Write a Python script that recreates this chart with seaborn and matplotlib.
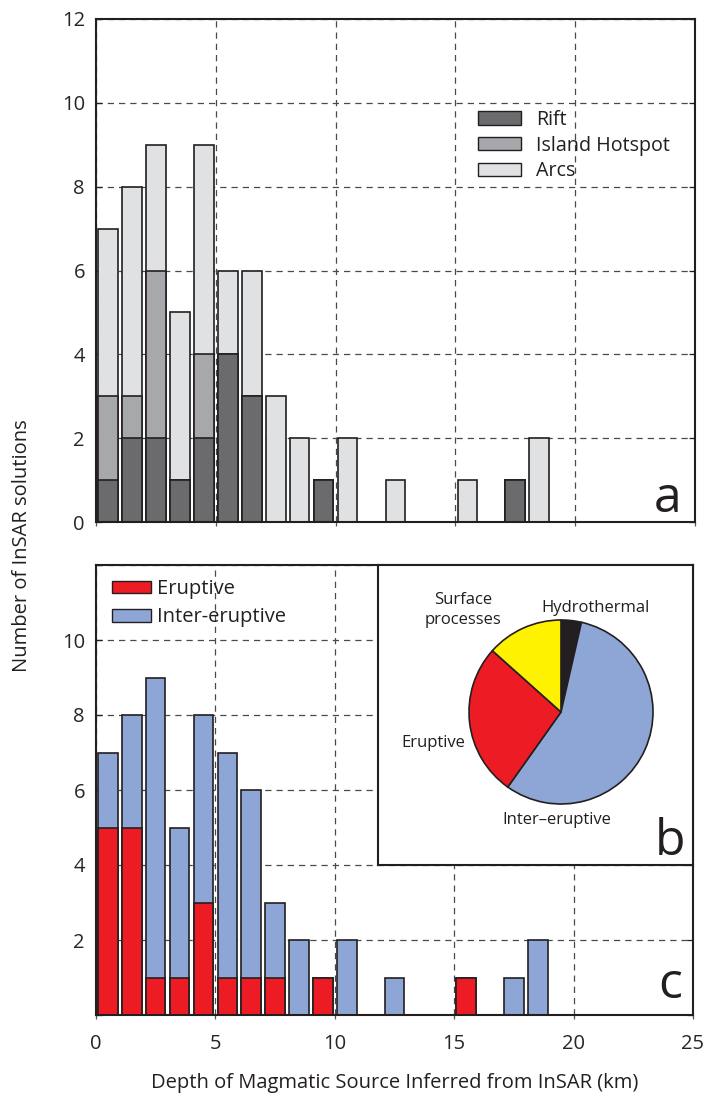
import numpy as np
import pandas as pd
import matplotlib
matplotlib.use("Agg")
import matplotlib.pyplot as plt
from matplotlib.patches import Patch
from matplotlib import font_manager
import seaborn as sns

# ---- data -------------------------------------------------------------
depth_km = np.arange(25) + 0.5          # 1-km bin centres
rift     = [1, 2, 2, 1, 2, 4, 3, 0, 0, 1, 0, 0, 0, 0, 0, 0, 0, 1, 0, 0, 0, 0, 0, 0, 0]
hotspot  = [2, 1, 4, 0, 2, 0, 0, 0, 0, 0, 0, 0, 0, 0, 0, 0, 0, 0, 0, 0, 0, 0, 0, 0, 0]
arcs     = [4, 5, 3, 4, 5, 2, 3, 3, 2, 0, 2, 0, 1, 0, 0, 1, 0, 0, 2, 0, 0, 0, 0, 0, 0]
eruptive = [5, 5, 1, 1, 3, 1, 1, 1, 0, 1, 0, 0, 0, 0, 0, 1, 0, 0, 0, 0, 0, 0, 0, 0, 0]
inter    = [2, 3, 8, 4, 5, 6, 5, 2, 2, 0, 2, 0, 1, 0, 0, 0, 0, 1, 2, 0, 0, 0, 0, 0, 0]

pie_labels = ["Hydrothermal", "Inter\u2013eruptive", "Eruptive", "Surface\nprocesses"]
pie_counts = [4, 63, 30, 15]

x_ticks = [0, 5, 10, 15, 20, 25]
y_ticks = [0, 2, 4, 6, 8, 10, 12]

# ---- style ------------------------------------------------------------
C_RIFT, C_HOT, C_ARC = "#6b6b6d", "#a7a8ab", "#e0e1e3"
C_ERU, C_INT = "#ed1c24", "#8ea6d5"
C_HYD, C_SURF = "#231f20", "#fff200"
EDGE = "#231f20"

sns.set_theme(style="white")
installed = {f.name for f in font_manager.fontManager.ttflist}
main_font = "Open Sans" if "Open Sans" in installed else "DejaVu Sans"
plt.rcParams["font.family"] = [main_font, "DejaVu Sans"]
plt.rcParams["text.color"] = "#231f20"
plt.rcParams["axes.labelcolor"] = "#231f20"

W, H = 704, 1095
fig = plt.figure(figsize=(W / 100, H / 100), dpi=100)


def fx(px):
    return px / W


def fy(py):
    return 1 - py / H


def box(left, top, right, bottom):
    return [fx(left), fy(bottom), (right - left) / W, (bottom - top) / H]


df = pd.DataFrame({"depth": depth_km, "rift": rift, "hotspot": hotspot, "arcs": arcs,
                   "eruptive": eruptive, "inter": inter})
df["rift_hot"] = df["rift"] + df["hotspot"]
df["rift_hot_arc"] = df["rift_hot"] + df["arcs"]
df["eru_int"] = df["eruptive"] + df["inter"]

bar_kw = dict(x="depth", native_scale=True, width=0.82, saturation=1,
              edgecolor=EDGE, linewidth=1.2, errorbar=None)


def style_axes(ax, show_x_labels):
    ax.set_xlim(0, 25)
    ax.set_ylim(0, 12)
    ax.set_xticks(x_ticks)
    ax.set_yticks(y_ticks)
    ax.set_axisbelow(True)
    ax.grid(True, color="#4a4a4a", linestyle=(0, (5, 4)), linewidth=0.9)
    ax.set_xlabel("")
    ax.set_ylabel("")
    for s in ax.spines.values():
        s.set_visible(True)
        s.set_color(EDGE)
        s.set_linewidth(1.5)
    ax.tick_params(axis="y", which="both", left=True, right=True, direction="in",
                   length=4, width=0.9, color=EDGE, labelsize=14.5, pad=8)
    ax.tick_params(axis="x", bottom=True, direction="out", length=3, width=0.9,
                   color="#555555", labelsize=14.5, pad=11, labelbottom=show_x_labels)


# ---- panel a: tectonic setting -----------------------------------------
ax_a = fig.add_axes(box(96, 19, 695, 522))
sns.barplot(data=df, y="rift_hot_arc", color=C_ARC, ax=ax_a, **bar_kw)
sns.barplot(data=df, y="rift_hot", color=C_HOT, ax=ax_a, **bar_kw)
sns.barplot(data=df, y="rift", color=C_RIFT, ax=ax_a, **bar_kw)
style_axes(ax_a, show_x_labels=False)

handles_a = [Patch(facecolor=c, edgecolor=EDGE, linewidth=1.0) for c in (C_RIFT, C_HOT, C_ARC)]
ax_a.legend(handles_a, ["Rift", "Island Hotspot", "Arcs"], loc="upper left",
            bbox_to_anchor=(fx(478), fy(110)), bbox_transform=fig.transFigure,
            frameon=False, fontsize=14.2, handlelength=2.2, handleheight=0.65,
            handletextpad=0.75, labelspacing=0.28, borderpad=0, borderaxespad=0)
ax_a.text(0.955, 0.02, "a", transform=ax_a.transAxes, ha="center", va="baseline",
          fontsize=36)

# ---- panel c: eruptive state --------------------------------------------
ax_c = fig.add_axes(box(96, 565, 693, 1015))
sns.barplot(data=df, y="eru_int", color=C_INT, ax=ax_c, **bar_kw)
sns.barplot(data=df, y="eruptive", color=C_ERU, ax=ax_c, **bar_kw)
style_axes(ax_c, show_x_labels=True)
ax_c.set_yticklabels(["" if t in (0, 12) else str(t) for t in y_ticks])

handles_c = [Patch(facecolor=c, edgecolor=EDGE, linewidth=1.0) for c in (C_ERU, C_INT)]
ax_c.legend(handles_c, ["Eruptive", "Inter-eruptive"], loc="upper left",
            bbox_to_anchor=(fx(112), fy(579)), bbox_transform=fig.transFigure,
            frameon=False, fontsize=14.5, handlelength=1.95, handleheight=0.6,
            handletextpad=0.3, labelspacing=0.42, borderpad=0, borderaxespad=0)
fig.text(fx(670), fy(998), "c", ha="center", va="baseline", fontsize=36)

# ---- panel b: inset pie of deformation causes ----------------------------
ax_b = fig.add_axes(box(378, 565, 693, 865))
ax_b.set_facecolor("white")
ax_b.set_xticks([])
ax_b.set_yticks([])
for s in ax_b.spines.values():
    s.set_visible(True)
    s.set_color(EDGE)
    s.set_linewidth(1.5)

R = 92
ax_p = fig.add_axes(box(561 - R - 2, 712 - R - 2, 561 + R + 2, 712 + R + 2))
ax_p.pie(pie_counts, colors=[C_HYD, C_INT, C_ERU, C_SURF], startangle=90,
         counterclock=False,
         wedgeprops=dict(edgecolor=EDGE, linewidth=1.2))
lim = (R + 2) / R
ax_p.set_xlim(-lim, lim)
ax_p.set_ylim(-lim, lim)
ax_p.set_aspect("equal")
ax_p.axis("off")

label_pos = [(596, 608), (557, 820), (433, 743), (463, 610)]
for lab, (px, py) in zip(pie_labels, label_pos):
    fig.text(fx(px), fy(py), lab, ha="center", va="center", fontsize=12,
             linespacing=1.25)
fig.text(fx(670), fy(855), "b", ha="center", va="baseline", fontsize=36)

# ---- shared axis titles -------------------------------------------------
fig.text(fx(22), fy(546), "Number of InSAR solutions", rotation=90,
         ha="center", va="center", fontsize=14.5)
fig.text(fx(395), fy(1083), "Depth of Magmatic Source Inferred from InSAR (km)",
         ha="center", va="center", fontsize=14.5)

fig.savefig("out.png", dpi=100, facecolor="white")
